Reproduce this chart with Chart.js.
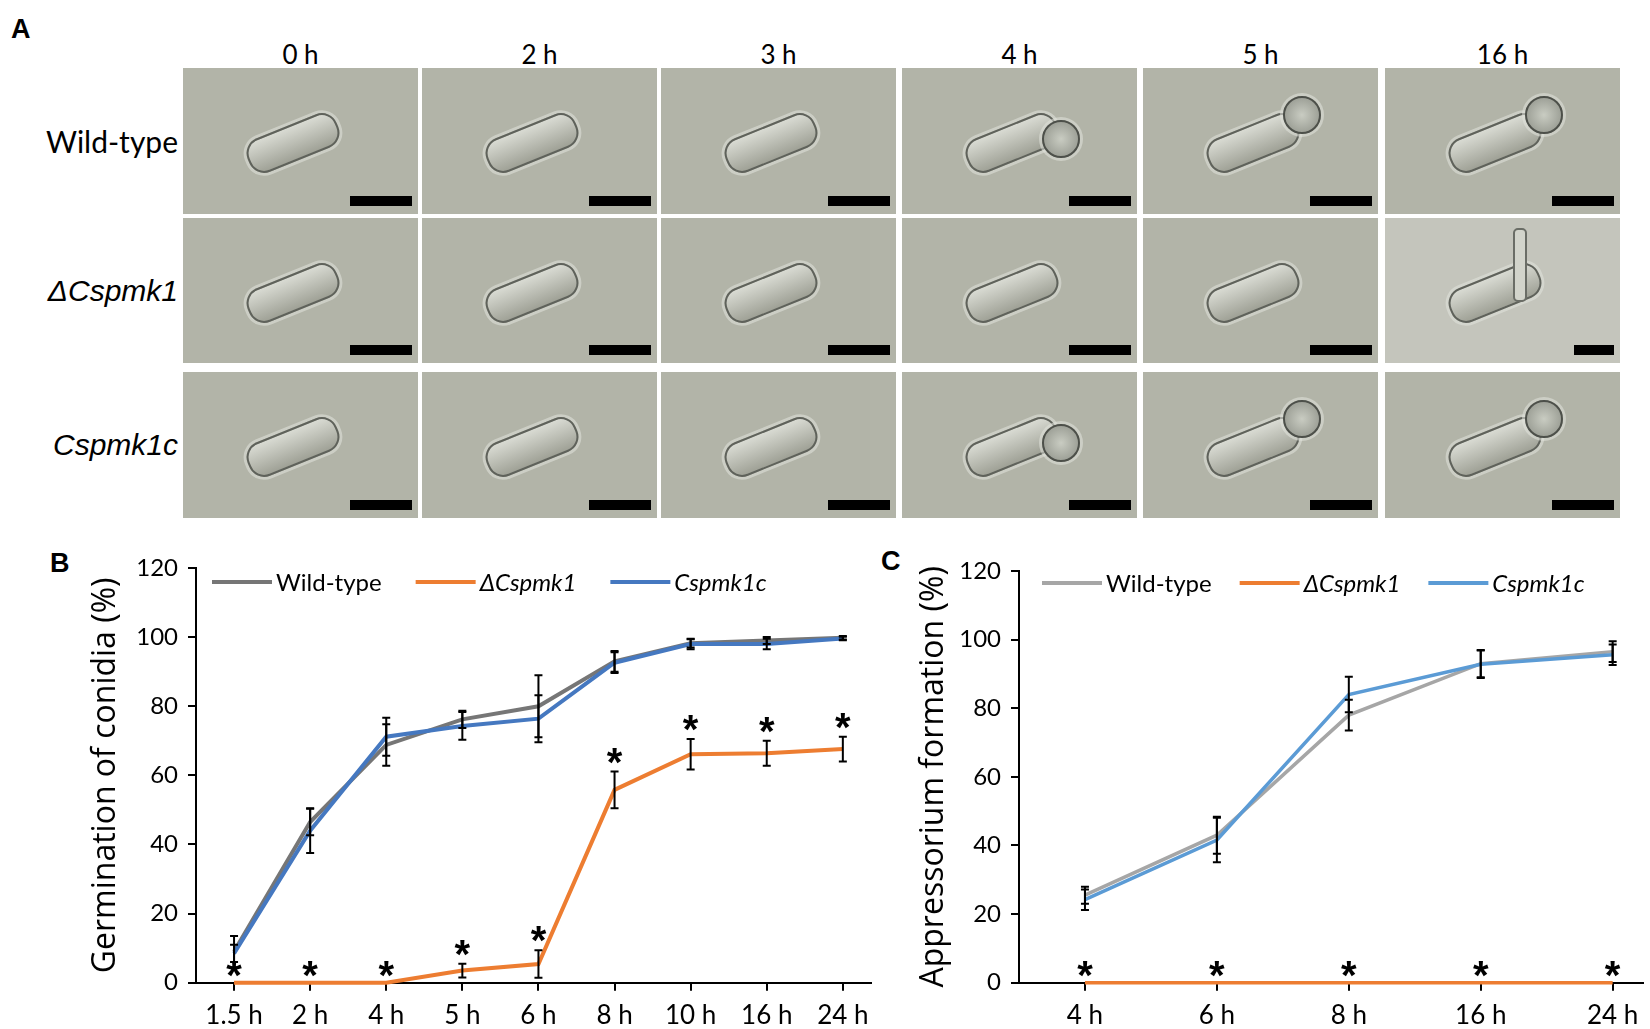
<!DOCTYPE html>
<html>
<head>
<meta charset="utf-8">
<script src="https://cdn.jsdelivr.net/npm/chart.js@4.4.0/dist/chart.umd.min.js"></script>
<style>
  body { margin:0; background:#fff; width:1650px; height:1029px; position:relative; overflow:hidden; font-family:Lato, sans-serif; color:#000; }
  .tile { position:absolute; width:235px; background:#b2b4a8; overflow:hidden; }
  .tile.light { background:#c4c5bc; }
  .bar { position:absolute; right:6px; bottom:8px; width:62px; height:10px; background:#000; }
  .bar.short { width:40px; }
  .hdr { position:absolute; top:38px; width:235px; text-align:center; font-size:26px; line-height:32px; }
  .rowlab { position:absolute; right:1472px; font-size:30px; line-height:36px; white-space:nowrap; }
  .rowlab.it { font-family:"Liberation Sans", Arial, sans-serif; font-style:italic; font-size:30px; }
  .panel { position:absolute; font:bold 27px "Liberation Sans", Arial, sans-serif; }
  .cell { position:absolute; left:50%; top:50%; width:92px; height:32px; margin:-16px 0 0 -56px; border-radius:16px;
          background:linear-gradient(#d9dbd3,#9fa196); border:2px solid #5f625b; box-shadow:0 0 0 3px rgba(225,228,220,.55);
          transform:rotate(-22deg); }
  .app { position:absolute; width:34px; height:34px; border-radius:50%; background:radial-gradient(#c9ccc2,#8d9087);
         border:2px solid #4d504a; box-shadow:0 0 0 3px rgba(225,228,220,.55); }
  .tube { position:absolute; width:10px; height:70px; border-radius:5px; background:#d2d4cb; border:2px solid #6a6d66; }
  canvas { position:absolute; }
</style>
</head>
<body>
<div class="panel" style="left:11px;top:14px;">A</div>
<div class="panel" style="left:50px;top:548px;">B</div>
<div class="panel" style="left:881px;top:546px;">C</div>
<div id="micro"></div>
<canvas id="chartB" width="880" height="509" style="left:0;top:520px;"></canvas>
<canvas id="chartC" width="770" height="509" style="left:880px;top:520px;"></canvas>
<script>
// panel A labels
const timepoints = ['0 h', '2 h', '3 h', '4 h', '5 h', '16 h'];
const strains = ['Wild-type', 'ΔCspmk1', 'Cspmk1c'];

// panel B: germination of conidia (%)
const hoursB = ['1.5 h', '2 h', '4 h', '5 h', '6 h', '8 h', '10 h', '16 h', '24 h'];
const wtB = [9, 46.5, 68.8, 76.2, 80, 93, 98.2, 99, 99.8];
const wtBErr = [4.5, 3.8, 6, 2.5, 9, 3, 1.2, 1, 0.5];
const mutB = [0, 0, 0, 3.5, 5.4, 55.8, 66.1, 66.4, 67.6];
const mutBErr = [0, 0, 0, 2, 4, 5.3, 4.4, 3.6, 3.6];
const compB = [8.5, 44, 71.2, 74.3, 76.4, 92.6, 98, 98, 99.6];
const compBErr = [2.5, 6.5, 5.5, 4, 6.8, 3, 1.5, 1.5, 0.5];
const starsB = [1, 1, 1, 1, 1, 1, 1, 1, 1];

// panel C: appressorium formation (%)
const hoursC = ['4 h', '6 h', '8 h', '16 h', '24 h'];
const wtC = [25.5, 43, 78, 93, 96.5];
const wtCErr = [2.5, 5.4, 4.5, 4, 3];
const mutC = [0, 0, 0, 0, 0];
const mutCErr = [0, 0, 0, 0, 0];
const compC = [24.2, 41.6, 84, 92.8, 95.6];
const compCErr = [3, 6.5, 5.2, 4, 3];
const starsC = [1, 1, 1, 1, 1];

// ---- panel A (micrograph placeholders)
const tileLeft = [183, 422, 661, 902, 1143, 1385];
const tileTop = [68, 218, 372];
const tileH = [146, 145, 146];
const micro = document.getElementById('micro');
let html = '';
timepoints.forEach((t, c) => {
  html += `<div class="hdr" style="left:${tileLeft[c]}px">${t}</div>`;
});
strains.forEach((s, r) => {
  const it = r > 0 ? ' it' : '';
  html += `<div class="rowlab${it}" style="top:${tileTop[r] + tileH[r] / 2 - 18}px">${s}</div>`;
  timepoints.forEach((t, c) => {
    const light = (r === 1 && c === 5) ? ' light' : '';
    let inner = '<div class="cell"></div>';
    if (r !== 1 && c >= 3) inner += '<div class="app" style="left:140px;top:' + (c === 3 ? 52 : 28) + 'px"></div>';
    if (r === 1 && c === 5) inner += '<div class="tube" style="left:128px;top:10px"></div>';
    inner += `<div class="bar${light ? ' short' : ''}"></div>`;
    html += `<div class="tile${light}" style="left:${tileLeft[c]}px;top:${tileTop[r]}px;height:${tileH[r]}px">${inner}</div>`;
  });
});
micro.innerHTML = html;

// ---- panels B and C
const pts = arr => arr.map((v, i) => ({ x: i, y: v }));

const extras = {
  id: 'extras',
  afterDatasetsDraw(chart, args, opts) {
    const { ctx, scales: { x, y } } = chart;
    ctx.save();
    ctx.strokeStyle = '#000';
    ctx.lineWidth = 2;
    chart.data.datasets.forEach(ds => {
      ds.data.forEach((p, i) => {
        const e = ds.errs[i];
        if (!e) return;
        const px = x.getPixelForValue(p.x);
        const t = y.getPixelForValue(p.y + e);
        const b = y.getPixelForValue(Math.max(0, p.y - e));
        ctx.beginPath();
        ctx.moveTo(px, t); ctx.lineTo(px, b);
        ctx.moveTo(px - 4, t); ctx.lineTo(px + 4, t);
        ctx.moveTo(px - 4, b); ctx.lineTo(px + 4, b);
        ctx.stroke();
      });
    });
    // significance stars above the mutant
    const mut = chart.data.datasets[1];
    ctx.fillStyle = '#000';
    ctx.font = 'bold 40px "Liberation Sans"';
    ctx.textAlign = 'center';
    ctx.textBaseline = 'alphabetic';
    mut.data.forEach((p, i) => {
      if (!opts.stars[i]) return;
      const cy = y.getPixelForValue(p.y + mut.errs[i]) - (mut.errs[i] ? 12 : 10);
      ctx.fillText('*', x.getPixelForValue(p.x), cy + 16);
    });
    // legend
    let lx = opts.legendX;
    const ly = opts.legendY;
    ctx.textAlign = 'left';
    ctx.textBaseline = 'middle';
    chart.data.datasets.forEach(ds => {
      ctx.strokeStyle = ds.borderColor;
      ctx.lineWidth = 4;
      ctx.beginPath();
      ctx.moveTo(lx, ly); ctx.lineTo(lx + 60, ly);
      ctx.stroke();
      ctx.font = (ds.italic ? 'italic ' : '') + '24px Lato';
      ctx.fillText(ds.label, lx + 64, ly + 1);
      lx += 64 + ctx.measureText(ds.label).width + opts.gap;
    });
    ctx.restore();
  }
};

function makeChart(id, cfg) {
  const ds = (label, data, errs, color, order, italic) => ({
    label, data: pts(data), errs, borderColor: color, backgroundColor: color,
    borderWidth: cfg.lw, pointRadius: 0, tension: 0, order, italic, clip: false
  });
  return new Chart(document.getElementById(id), {
    type: 'line',
    data: {
      datasets: [
        ds('Wild-type', cfg.wt, cfg.wtErr, cfg.gray, 2, false),
        ds('ΔCspmk1', cfg.mut, cfg.mutErr, '#ed7d31', 1, true),
        ds('Cspmk1c', cfg.comp, cfg.compErr, cfg.blue, 0, true)
      ]
    },
    options: {
      responsive: false,
      animation: false,
      events: [],
      layout: { padding: { top: cfg.padTop, right: cfg.padRight, left: 0, bottom: 0 } },
      plugins: {
        legend: { display: false },
        tooltip: { enabled: false },
        extras: { stars: cfg.stars, legendX: cfg.legendX, legendY: cfg.legendY, gap: cfg.gap }
      },
      scales: {
        x: {
          type: 'linear', min: -0.5, max: cfg.xMax,
          afterBuildTicks: s => { s.ticks = cfg.hours.map((_, i) => ({ value: i })); },
          ticks: { callback: v => cfg.hours[v], autoSkip: false, maxRotation: 0, padding: 9, color: '#000', font: { family: 'Lato', size: 26 } },
          grid: { drawOnChartArea: false, tickLength: 8, color: '#000', lineWidth: 2 },
          border: { color: '#000', width: 2 },
          afterFit: s => { s.height = 46.3; }
        },
        y: {
          min: 0, max: 120,
          ticks: { stepSize: 20, padding: 10, color: '#000', font: { family: 'Lato', size: 24 } },
          grid: { drawOnChartArea: false, tickLength: 8, color: '#000', lineWidth: 2 },
          border: { color: '#000', width: 2 },
          title: { display: true, text: cfg.title, color: '#000', font: { family: 'Open Sans', size: 32 }, padding: { top: cfg.titlePad, bottom: 0 } },
          afterFit: s => { s.width = cfg.yWidth; }
        }
      }
    },
    plugins: [extras]
  });
}

makeChart('chartB', {
  hours: hoursB, wt: wtB, wtErr: wtBErr, mut: mutB, mutErr: mutBErr, comp: compB, compErr: compBErr, stars: starsB,
  gray: '#767676', blue: '#4578c0', lw: 4, xMax: 8.37, padTop: 48, padRight: 9, yWidth: 196, titlePad: 87,
  title: 'Germination of conidia (%)', legendX: 212, legendY: 62, gap: 34
});
makeChart('chartC', {
  hours: hoursC, wt: wtC, wtErr: wtCErr, mut: mutC, mutErr: mutCErr, comp: compC, compErr: compCErr, stars: starsC,
  gray: '#a6a6a6', blue: '#5b9bd5', lw: 3.5, xMax: 4.23, padTop: 51, padRight: 7, yWidth: 139, titlePad: 35,
  title: 'Appressorium formation (%)', legendX: 162, legendY: 63, gap: 28
});
</script>
</body>
</html>
